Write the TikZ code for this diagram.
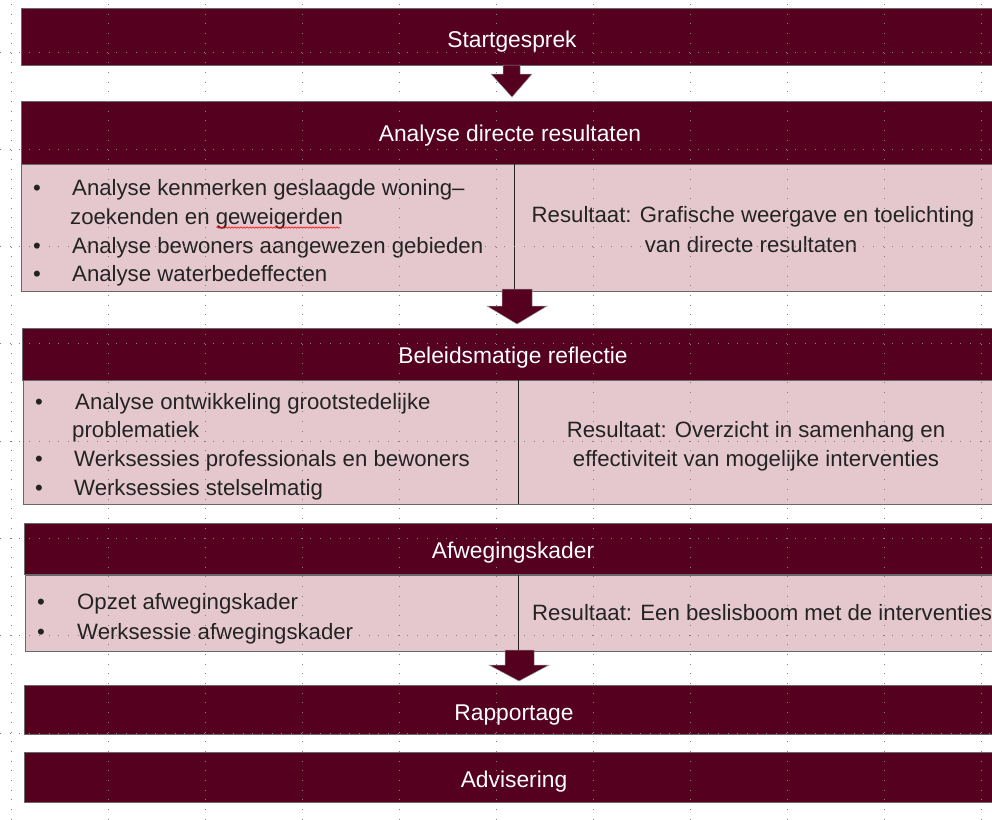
\documentclass[tikz,border=0pt]{standalone}
\usepackage{fontspec}
\setmainfont{Liberation Sans}
\usetikzlibrary{decorations.pathmorphing}
\definecolor{maroon}{RGB}{84,0,30}
\definecolor{rose}{RGB}{229,200,205}
\definecolor{edge}{RGB}{105,105,105}
\definecolor{ink}{RGB}{35,35,35}
\begin{document}
\begin{tikzpicture}[x=1pt,y=-1pt,
  hdr/.style={draw=edge,line width=0.9pt,fill=maroon,anchor=north west,inner sep=0pt,outer sep=0pt},
  bodycell/.style={draw=edge,line width=0.9pt,fill=rose,anchor=north west,inner sep=0pt,outer sep=0pt},
  htext/.style={text=white,font=\fontsize{22.8}{28}\selectfont,anchor=mid,inner sep=0pt},
  btext/.style={text=ink,font=\fontsize{22.2}{28}\selectfont,anchor=mid west,inner sep=0pt},
  ctext/.style={text=ink,font=\fontsize{22.2}{28}\selectfont,anchor=mid,inner sep=0pt},
  bul/.style={text=ink,font=\fontsize{22.2}{28}\selectfont,anchor=mid,inner sep=0pt},
  blockarrow/.style={fill=maroon,draw=edge!70,line width=0.5pt},
  divider/.style={draw=ink,line width=1pt},
  griddots/.style={draw=gray,line width=1pt,dash pattern=on 1pt off 8.7pt}
]
\useasboundingbox (0,0) rectangle (992,819);
\fill[white] (0,0) rectangle (992,819);

% boxes
\node[hdr,minimum width=983pt,minimum height=57pt] (sg) at (21,8) {};
\node[hdr,minimum width=983pt,minimum height=63pt] (adh) at (21,101) {};
\node[bodycell,minimum width=493pt,minimum height=127pt] (adl) at (21,164) {};
\node[bodycell,minimum width=490pt,minimum height=127pt] (adr) at (514,164) {};
\node[hdr,minimum width=982pt,minimum height=52pt] (bh) at (22,328) {};
\node[bodycell,minimum width=495pt,minimum height=124pt] (bl) at (23,380) {};
\node[bodycell,minimum width=486pt,minimum height=124pt] (br) at (518,380) {};
\node[hdr,minimum width=980pt,minimum height=51pt] (awh) at (24,523) {};
\node[bodycell,minimum width=493pt,minimum height=76pt] (awl) at (25,575) {};
\node[bodycell,minimum width=486pt,minimum height=76pt] (awr) at (518,575) {};
\node[hdr,minimum width=980pt,minimum height=49pt] (rp) at (24,685) {};
\node[hdr,minimum width=980pt,minimum height=50pt] (adv) at (24,752) {};

% dividers
\draw[divider] (adl.north east) -- (adl.south east);
\draw[divider] (bl.north east) -- (bl.south east);
\draw[divider] (awl.north east) -- (awl.south east);

% block arrows
\coordinate (a1) at (512,97);
\fill[blockarrow] (503,65) -- (520,65) -- (520,74) -- (532,74) -- (a1) -- (491,74) -- (503,74) -- cycle;
\coordinate (a2) at (517,324);
\fill[blockarrow] (502,289) -- (532,289) -- (532,306) -- (547,306) -- (a2) -- (487,306) -- (502,306) -- cycle;
\coordinate (a3) at (519,681);
\fill[blockarrow] (505,650) -- (534,650) -- (534,665) -- (549,665) -- (a3) -- (489,665) -- (505,665) -- cycle;

% header texts
\node[htext] (t1) at (512,45) {Startgesprek};
\node[htext] (t2) at (510,139) {Analyse directe resultaten};
\node[htext] (t3) at (513,361) {Beleidsmatige reflectie};
\node[htext] (t4) at (513,556) {Afwegingskader};
\node[htext] (t5) at (514,718) {Rapportage};
\node[htext] (t6) at (514,785) {Advisering};

% block 1 left
\node[bul] (b11) at (37,193) {•};
\node[btext] (l11) at (72,193) {Analyse kenmerken geslaagde woning–};
\node[btext] (l12) at (70,222) {zoekenden en geweigerden};
\node[bul] (b12) at (37,251) {•};
\node[btext] (l13) at (72,251) {Analyse bewoners aangewezen gebieden};
\node[bul] (b13) at (37,279) {•};
\node[btext] (l14) at (72,279) {Analyse waterbedeffecten};
\coordinate (w1) at (216,227.5);
\coordinate (w2) at (340,227.5);
\draw[red,line width=0.5pt,decorate,decoration={snake,amplitude=0.8pt,segment length=3pt}] (w1) -- (w2);

% block 1 right
\node[ctext] (r11) at (753,220) {Resultaat: Grafische weergave en toelichting};
\node[ctext] (r12) at (751,250) {van directe resultaten};

% block 2 left
\node[bul] (b21) at (39,407) {•};
\node[btext] (l21) at (75,407) {Analyse ontwikkeling grootstedelijke};
\node[btext] (l22) at (72,435) {problematiek};
\node[bul] (b22) at (39,464) {•};
\node[btext] (l23) at (74,464) {Werksessies professionals en bewoners};
\node[bul] (b23) at (39,493) {•};
\node[btext] (l24) at (74,493) {Werksessies stelselmatig};

% block 2 right
\node[ctext] (r21) at (756,435) {Resultaat: Overzicht in samenhang en};
\node[ctext] (r22) at (756,464) {effectiviteit van mogelijke interventies};

% block 3 left
\node[bul] (b31) at (41,607) {•};
\node[btext] (l31) at (77,607) {Opzet afwegingskader};
\node[bul] (b32) at (41,637) {•};
\node[btext] (l32) at (77,637) {Werksessie afwegingskader};

% block 3 right
\node[btext] (r31) at (532,618) {Resultaat: Een beslisboom met de interventies};

% grid dots
\foreach \k in {0,...,10} {
  \draw[griddots] ({11+97*\k},4) -- ({11+97*\k},819);
}
\foreach \k in {0,...,7} {
  \draw[griddots] (0,{52+97.3*\k}) -- (992,{52+97.3*\k});
}
\end{tikzpicture}
\end{document}
